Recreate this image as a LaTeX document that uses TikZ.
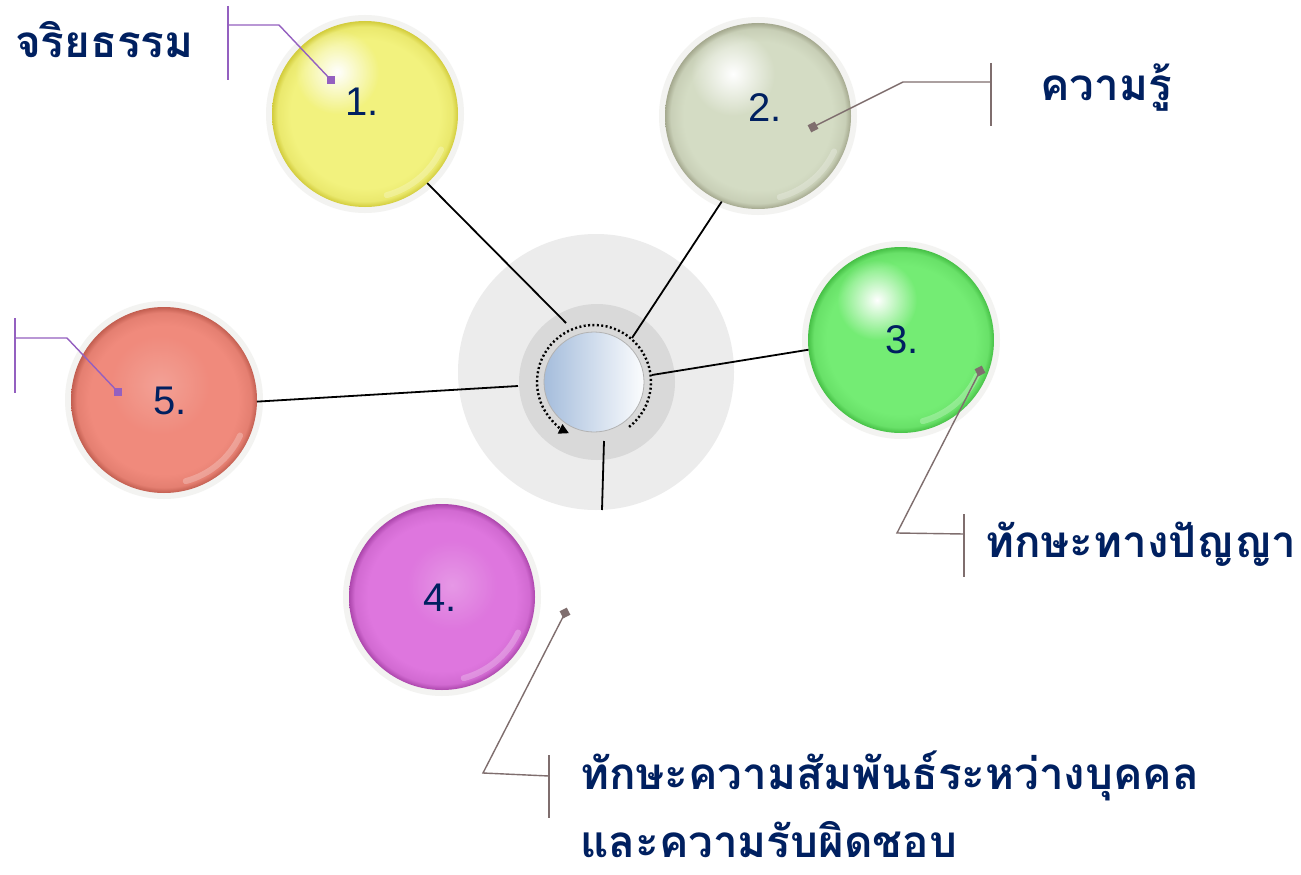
\documentclass[tikz,border=0pt]{standalone}
\usepackage{fontspec}
\setmainfont{Liberation Sans}
\newfontfamily\thaifont[Script=Thai]{Loma}
\usetikzlibrary{arrows.meta,fadings}
\definecolor{navy}{HTML}{002060}
\definecolor{calpur}{HTML}{9460C0}
\definecolor{calgray}{HTML}{7F6E6E}
\definecolor{bigring}{HTML}{ECECEC}
\definecolor{midring}{HTML}{D9D9D9}
\definecolor{halocol}{HTML}{F3F3F1}
\definecolor{cblue}{HTML}{A5BDDC}
\definecolor{yelmid}{HTML}{F2F27E}\definecolor{yeledge}{HTML}{D2CC3C}
\definecolor{sagmid}{HTML}{D4DCC4}\definecolor{sagedge}{HTML}{A4A88E}
\definecolor{grnmid}{HTML}{74EC74}\definecolor{grnedge}{HTML}{46C046}
\definecolor{magmid}{HTML}{DE76DE}\definecolor{magedge}{HTML}{AC46AC}
\definecolor{salmid}{HTML}{F08A7C}\definecolor{saledge}{HTML}{C25E50}
\colorlet{ballmid}{white}
\colorlet{balledge}{gray}
\pgfdeclareradialshading[ballmid,balledge]{ballrad}{\pgfpointorigin}{color(0bp)=(ballmid); color(20bp)=(ballmid); color(23.5bp)=(ballmid!75!balledge); color(25bp)=(balledge); color(50bp)=(balledge)}
\tikzfading[name=glowfade, inner color=transparent!0, outer color=transparent!100]
\tikzset{
  ball/.style 2 args={circle, inner sep=0pt, outer sep=0pt, minimum size=186pt,
    /utils/exec={\colorlet{ballmid}{#1}\colorlet{balledge}{#2}}, shade, shading=ballrad},
  halo/.style={fill=halocol},
  glow/.style={fill=white, path fading=glowfade},
  rimhl/.style={draw=white, opacity=.25, line width=6pt, line cap=round},
  numtxt/.style={text=navy, font=\fontsize{40}{44}\selectfont, inner sep=0pt},
  thaitxt/.style={text=navy, font=\thaifont\bfseries\fontsize{44}{68}\selectfont, inner sep=0pt, anchor=base west, align=left},
  link/.style={draw=black, line width=1.8pt},
  sqp/.style={rectangle, fill=calpur, inner sep=0pt, minimum size=8pt},
  sqg/.style={rectangle, fill=calgray, inner sep=0pt, minimum size=8pt},
  callp/.style={draw=calpur, line width=1.4pt},
  callg/.style={draw=calgray, line width=1.4pt},
}
\begin{document}
\begin{tikzpicture}[x=1pt,y=-1pt]
\fill[white] (0,0) rectangle (1301,875);
\useasboundingbox (0,0) rectangle (1301,875);
% centre
\coordinate (cbig) at (596,372);
\coordinate (cmid) at (597,382);
\coordinate (cc) at (594,382);
\fill[bigring] (cbig) circle (138);
\fill[midring] (cmid) circle (78);
% ball centres
\coordinate (p1) at (365,114);
\coordinate (p2) at (758,116);
\coordinate (p3) at (901,340);
\coordinate (p4) at (442,597);
\coordinate (p5) at (164,400);
% halos
\foreach \p in {p1,p2,p3,p4,p5} \fill[halo] (\p) circle (99);
% balls
\node[ball={yelmid}{yeledge}] (b1) at (p1) {};
\node[ball={sagmid}{sagedge}] (b2) at (p2) {};
\node[ball={grnmid}{grnedge}] (b3) at (p3) {};
\node[ball={magmid}{magedge}] (b4) at (p4) {};
\node[ball={salmid}{saledge}] (b5) at (p5) {};
% highlights
\fill[glow] (337,72) circle (42);
\fill[glow] (733,74) circle (42);
\fill[glow] (877,300) circle (40);
\fill[glow, opacity=.25] (452,585) circle (45);
\fill[glow, opacity=.2] (160,385) circle (50);
\foreach \p in {p1,p2,p3,p4,p5}
  \draw[rimhl] (\p) ++(25:84) arc[start angle=25, end angle=75, radius=84];
% centre ball
\node[circle, inner sep=0pt, minimum size=100pt, left color=cblue, right color=white!96!cblue, draw=gray!60, line width=0.8pt] (cb) at (cc) {};
\draw[black, line width=2.4pt, dash pattern=on 2pt off 2.4pt, -{Triangle[length=10pt,width=10pt]}] (cc) ++(52:57) arc[start angle=52, end angle=-244, radius=57];
% connectors
\coordinate (e1) at (566,323);
\coordinate (e2) at (632,338);
\coordinate (e3) at (652,375);
\coordinate (e5) at (518,386);
\coordinate (d1) at (604,441);
\coordinate (d2) at (602,510);
\draw[link] (b1.-48) -- (e1);
\draw[link] (b2.-113) -- (e2);
\draw[link] (b3.-174) -- (e3);
\draw[link] (b5.-1) -- (e5);
\draw[link] (d1) -- (d2);
% numbers
\node[numtxt] (n1) at (362,102) {1.};
\node[numtxt] (n2) at (765,108) {2.};
\node[numtxt] (n3) at (902,340) {3.};
\node[numtxt] (n4) at (440,598) {4.};
\node[numtxt] (n5) at (170,401) {5.};
% callout 1
\node[sqp] (s1) at (331,80) {};
\coordinate (k1) at (279,25);
\coordinate (t1) at (228,25);
\coordinate (u1) at (228,6);
\coordinate (v1) at (228,80);
\draw[callp] (s1.center) -- (k1) -- (t1);
\draw[callp] (u1) -- (v1);
% callout 2
\node[sqg, rotate=27] (s2) at (813,127) {};
\coordinate (k2) at (903,82);
\coordinate (t2) at (991,82);
\coordinate (u2) at (991,63);
\coordinate (v2) at (991,126);
\draw[callg] (s2.center) -- (k2) -- (t2);
\draw[callg] (u2) -- (v2);
% callout 3
\node[sqg, rotate=-63] (s3) at (980,371) {};
\coordinate (k3) at (897,533);
\coordinate (t3) at (964,534);
\coordinate (u3) at (964,514);
\coordinate (v3) at (964,577);
\draw[callg] (s3.center) -- (k3) -- (t3);
\draw[callg] (u3) -- (v3);
% callout 4
\node[sqg, rotate=-63] (s4) at (565,613) {};
\coordinate (k4) at (483,773);
\coordinate (t4) at (549,776);
\coordinate (u4) at (549,755);
\coordinate (v4) at (549,818);
\draw[callg] (s4.center) -- (k4) -- (t4);
\draw[callg] (u4) -- (v4);
% callout 5
\node[sqp] (s5) at (118,392) {};
\coordinate (k5) at (67,338);
\coordinate (t5) at (15,338);
\coordinate (u5) at (15,318);
\coordinate (v5) at (15,393);
\draw[callp] (s5.center) -- (k5) -- (t5);
\draw[callp] (u5) -- (v5);
% labels
\node[thaitxt] (l1) at (15,58) {จริยธรรม};
\node[thaitxt] (l2) at (1040,100) {ความรู้};
\node[thaitxt] (l3) at (985,557) {ทักษะทางปัญญา};
\node[thaitxt] (l4) at (580,857) {ทักษะความสัมพันธ์ระหว่างบุคคล\\และความรับผิดชอบ};
\end{tikzpicture}
\end{document}
